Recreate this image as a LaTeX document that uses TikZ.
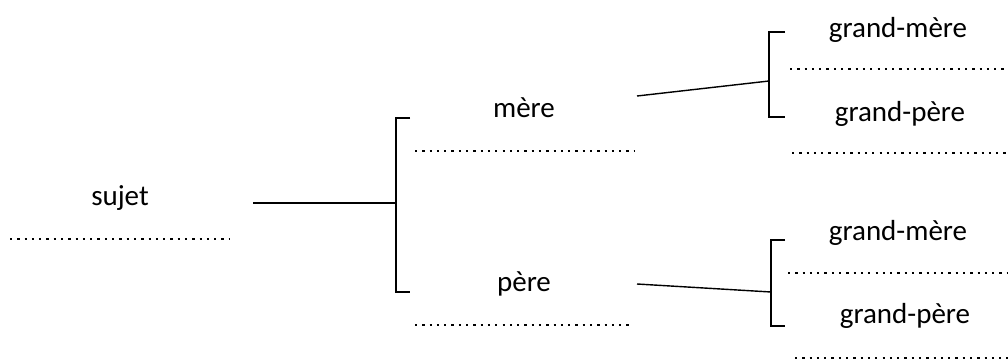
\documentclass[tikz,border=0pt]{standalone}
\usepackage{fontspec}
\setmainfont{Carlito}
\tikzset{
  person/.style={anchor=base, inner sep=0pt, font=\fontsize{16.5}{18}\selectfont},
  blank/.style={line width=1.3pt, dash pattern=on 1.3pt off 2.85pt},
  link/.style={line width=0.8pt}
}
\begin{document}
\begin{tikzpicture}[x=0.02cm, y=-0.02cm]
  \useasboundingbox (0,0) rectangle (1008,362);
  % names
  \node[person] (sujet) at (120, 205) {sujet};
  \node[person] (mere) at (524, 117) {mère};
  \node[person] (pere) at (524, 291) {père};
  \node[person] (gm1) at (898, 37) {grand-mère};
  \node[person] (gp1) at (900, 121) {grand-père};
  \node[person] (gm2) at (898, 240) {grand-mère};
  \node[person] (gp2) at (905, 323) {grand-père};
  % blanks to fill in
  \draw[blank] (10, 239) -- (230, 239);
  \draw[blank] (415, 151) -- (635, 151);
  \draw[blank] (415, 325) -- (632, 325);
  \draw[blank] (790, 69) -- (1010, 69);
  \draw[blank] (792, 153) -- (1010, 153);
  \draw[blank] (788, 273) -- (1010, 273);
  \draw[blank] (795, 358) -- (1010, 358);
  % brackets
  \coordinate (s0) at (253, 203);
  \coordinate (b1) at (396, 203);
  \coordinate (m0) at (637, 96);
  \coordinate (b2) at (769, 81);
  \coordinate (p0) at (637, 284);
  \coordinate (b3) at (771, 292);
  \draw[link] (410, 118) -- (396, 118) -- (396, 292) -- (410, 292);
  \draw[link] (785, 32) -- (769, 32) -- (769, 117) -- (785, 117);
  \draw[link] (785, 240) -- (771, 240) -- (771, 326) -- (785, 326);
  \draw[link] (s0) -- (b1);
  \draw[link] (m0) -- (b2);
  \draw[link] (p0) -- (b3);
\end{tikzpicture}
\end{document}
